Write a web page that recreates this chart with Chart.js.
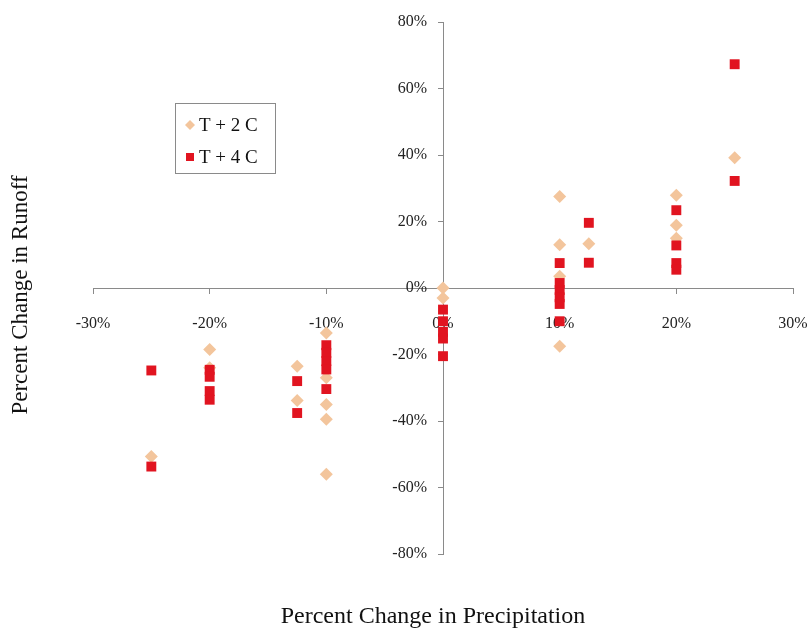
<!DOCTYPE html>
<html>
<head>
<meta charset="utf-8">
<script src="https://cdn.jsdelivr.net/npm/chart.js@4/dist/chart.umd.min.js"></script>
<style>
  html, body { margin: 0; padding: 0; background: #fff; }
  #wrap { width: 809px; height: 630px; position: relative; }
</style>
</head>
<body>
<div id="wrap"><canvas id="runoffChart"></canvas></div>
<script>
// precipitation change (%) and runoff change (%) per scenario
const warm2X = [-25, -20, -20, -12.5, -12.5, -10, -10, -10, -10, -10, 0, 0, 10, 10, 10, 10, 12.5, 20, 20, 20, 25];
const warm2Y = [-50.7, -18.5, -24, -23.5, -33.8, -13.5, -27, -35, -39.5, -56, 0, -3, 27.5, 13, 3.5, -17.5, 13.3, 27.9, 18.9, 15, 39.2];

const warm4X = [-25, -25, -20, -20, -20, -20, -12.5, -12.5, -10, -10, -10, -10, -10, 0, 0, 0, 0, 0, 10, 10, 10, 10, 10, 10, 12.5, 12.5, 20, 20, 20, 20, 25, 25];
const warm4Y = [-24.8, -53.7, -24.6, -26.7, -31, -33.6, -28, -37.6, -17.2, -19.5, -22, -24.5, -30.4, -6.5, -10, -13.2, -15.2, -20.5, 7.5, 1.5, -0.6, -2.8, -4.8, -10, 19.6, 7.6, 23.4, 12.8, 7.5, 5.5, 67.3, 32.2];

const seriesNames = ['T + 2 C', 'T + 4 C'];
const xTitle = 'Percent Change in Precipitation';
const yTitle = 'Percent Change in Runoff';

const toPoints = (xs, ys) => xs.map((x, i) => ({ x: x, y: ys[i] }));
const serif = '"Liberation Serif", serif';

// axis titles and the boxed legend sit outside the normal layout, so draw them here
const extras = {
    id: 'extras',
    afterDraw(chart) {
        const ctx = chart.ctx;
        ctx.save();
        ctx.fillStyle = '#111';
        ctx.textAlign = 'center';
        ctx.textBaseline = 'middle';
        ctx.font = '24px ' + serif;
        ctx.fillText(xTitle, 433, 617);
        ctx.font = '23px ' + serif;
        ctx.translate(21, 295);
        ctx.rotate(-Math.PI / 2);
        ctx.fillText(yTitle, 0, 0);
        ctx.restore();

        // legend box
        ctx.save();
        ctx.strokeStyle = '#8a8a8a';
        ctx.lineWidth = 1;
        ctx.strokeRect(175.5, 103.5, 100, 70);
        ctx.font = '19px ' + serif;
        ctx.textBaseline = 'middle';
        ctx.textAlign = 'left';
        chart.data.datasets.forEach((ds, i) => {
            const y = i === 0 ? 125 : 157;
            ctx.fillStyle = ds.backgroundColor;
            ctx.beginPath();
            if (ds.pointStyle === 'rectRot') {
                ctx.moveTo(190, y - 5); ctx.lineTo(195, y); ctx.lineTo(190, y + 5); ctx.lineTo(185, y);
            } else {
                ctx.rect(186, y - 4, 8, 8);
            }
            ctx.fill();
            ctx.fillStyle = '#111';
            ctx.fillText(ds.label, 199, y + 1);
        });
        ctx.restore();
    }
};

new Chart(document.getElementById('runoffChart'), {
    type: 'scatter',
    data: {
        datasets: [{
            label: seriesNames[0],
            data: toPoints(warm2X, warm2Y),
            backgroundColor: '#f3c59c',
            pointStyle: 'rectRot',
            pointRadius: 6.5,
            pointBorderWidth: 0,
            order: 2
        }, {
            label: seriesNames[1],
            data: toPoints(warm4X, warm4Y),
            backgroundColor: '#e11420',
            pointStyle: 'rect',
            pointRadius: 7,
            pointBorderWidth: 0,
            order: 1
        }]
    },
    options: {
        responsive: true,
        maintainAspectRatio: false,
        animation: false,
        layout: { padding: { left: 93, right: 16, top: 22, bottom: 76 } },
        plugins: {
            legend: { display: false },
            tooltip: { enabled: false }
        },
        scales: {
            x: {
                type: 'linear',
                position: { y: 0 },
                min: -30, max: 30,
                afterFit: s => { s.height = 0; s.paddingLeft = 0; s.paddingRight = 0; },
                ticks: {
                    stepSize: 10,
                    padding: 21,
                    color: '#222',
                    font: { family: serif, size: 16 },
                    callback: v => v + '%'
                },
                grid: { drawOnChartArea: false, drawTicks: true, tickLength: 5, color: '#8a8a8a' },
                border: { color: '#8a8a8a', width: 1 }
            },
            y: {
                type: 'linear',
                position: { x: 0 },
                min: -80, max: 80,
                afterFit: s => { s.width = 0; s.paddingTop = 0; s.paddingBottom = 0; },
                ticks: {
                    stepSize: 20,
                    color: '#222',
                    font: { family: serif, size: 16 },
                    // labels are right-aligned on the axis line, pad them off it
                    callback: v => v + '%    '
                },
                grid: { drawOnChartArea: false, drawTicks: true, tickLength: 5, color: '#8a8a8a' },
                border: { color: '#8a8a8a', width: 1 }
            }
        }
    },
    plugins: [extras]
});
</script>
</body>
</html>
